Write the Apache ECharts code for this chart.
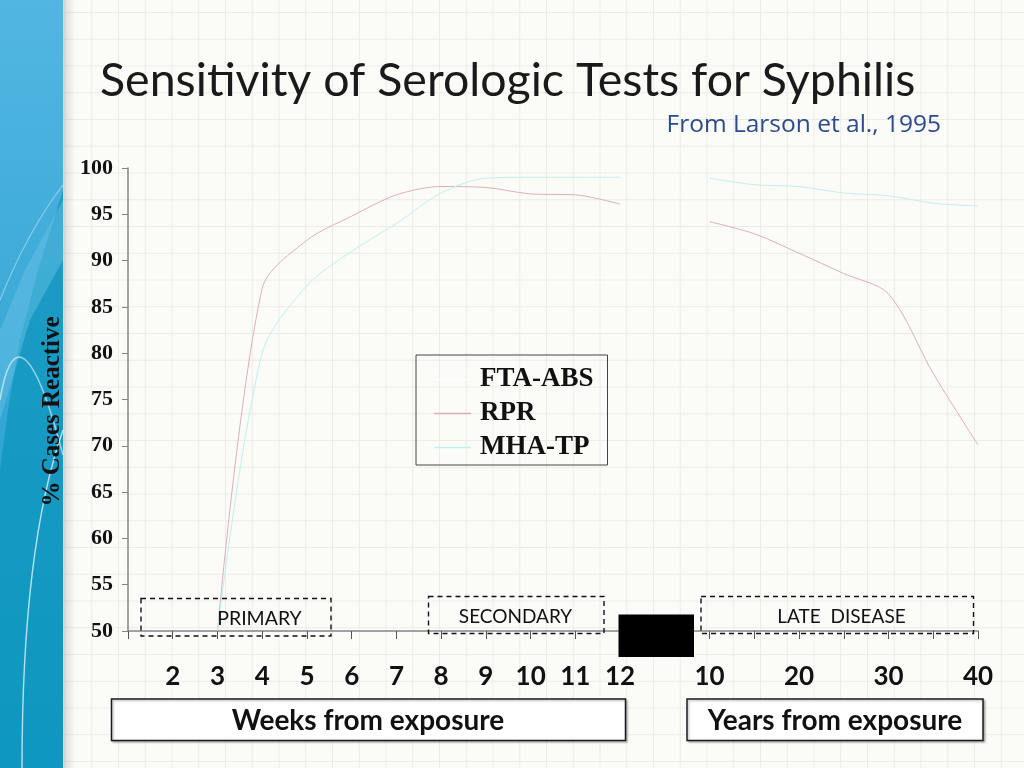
<!DOCTYPE html>
<html>
<head>
<meta charset="utf-8">
<script src="https://cdn.jsdelivr.net/npm/echarts@6/dist/echarts.min.js"></script>
<style>
  html, body { margin: 0; padding: 0; }
  body {
    width: 1024px; height: 768px; overflow: hidden;
    background-color: #fbfbf8;
    background-image:
      linear-gradient(to right, #ececE7 1.3px, transparent 1.3px),
      linear-gradient(to bottom, #ececE7 1.3px, transparent 1.3px);
    background-size: 26.75px 26.75px;
    background-position: 11px 12px;
  }
  #chart { width: 1024px; height: 768px; }
</style>
</head>
<body>
<div id="chart"></div>
<script>
// tick labels along the bottom: weeks 1..12, a break, then years 10..40
var xLabels = ['', '2', '3', '4', '5', '6', '7', '8', '9', '10', '11', '12', '',
               '10', '', '20', '', '30', '', '40'];
var seriesNames = ['FTA-ABS', 'RPR', 'MHA-TP'];
// FTA-ABS is drawn white in the original and can't be read off the slide
var ftaAbs = [];
var rpr = [null, null, 50, 87, 92.2, 94.8, 97.1, 98.0, 97.9, 97.2, 97.1, 96.1, null,
           94.2, 92.9, 90.8, 88.6, 86.4, 77.8, 70.1];
var mhaTp = [null, null, 50, 80, 87.3, 91.0, 94.0, 97.3, 98.9, 99.0, 99.0, 99.0, null,
             98.9, 98.2, 98.0, 97.3, 97.0, 96.2, 95.9];
var yTicks = { min: 50, max: 100, step: 5 };

(function() {
  var ink = '#111';
  var axisGrey = '#858585';
  var serif = '"Liberation Serif", "DejaVu Serif", serif';
  var sans = 'Lato, "Noto Sans", sans-serif';
  var narrow = '"Liberation Sans Narrow", Lato, sans-serif';
  var pink = '#dcb0b5';
  var cyan = '#bff0eb';

  var chart = echarts.init(document.getElementById('chart'), null, { renderer: 'canvas' });

  function dashedBox(x1, y1, x2, y2) {
    return {
      type: 'rect', z: 20,
      shape: { x: x1, y: y1, width: x2 - x1, height: y2 - y1 },
      style: { fill: 'none', stroke: '#111', lineWidth: 1.4, lineDash: [5, 4] }
    };
  }
  function boxLabel(x, y, text, size, weight) {
    return {
      type: 'text', z: 21,
      style: { x: x, y: y, text: text, fill: ink, align: 'center', verticalAlign: 'middle',
               font: (weight || 'normal') + ' ' + size + 'px ' + sans }
    };
  }
  function plainBox(x1, y1, x2, y2) {
    return {
      type: 'rect', z: 20,
      shape: { x: x1, y: y1, width: x2 - x1, height: y2 - y1 },
      style: { fill: '#fff', stroke: '#1a1a1a', lineWidth: 1.5,
               shadowColor: 'rgba(0,0,0,0.25)', shadowOffsetX: 1.5, shadowOffsetY: 1.5, shadowBlur: 2 }
    };
  }
  function arc(x1, y1, cx1, cy1, cx2, cy2, x2, y2, width, opacity) {
    return {
      type: 'bezierCurve', z: -8,
      shape: { x1: x1, y1: y1, cpx1: cx1, cpy1: cy1, cpx2: cx2, cpy2: cy2, x2: x2, y2: y2 },
      style: { fill: 'none', stroke: '#ffffff', lineWidth: width, opacity: opacity }
    };
  }

  chart.setOption({
    animation: false,
    title: [
      {
        text: 'Sensitivity of Serologic Tests for Syphilis',
        left: 95, top: 52,
        textStyle: { fontFamily: sans, fontWeight: 'normal', fontSize: 46.5, color: '#1a1a1a' }
      },
      {
        text: 'From Larson et al., 1995',
        right: 78, top: 108,
        textStyle: { fontFamily: '"Open Sans", "Noto Sans", sans-serif', fontWeight: 'normal',
                     fontSize: 24.5, color: '#2b4b8c' }
      }
    ],
    legend: {
      data: seriesNames,
      orient: 'vertical',
      left: 416, top: 355,
      padding: [11, 14, 4, 18],
      borderColor: '#444', borderWidth: 1,
      icon: 'rect',
      itemWidth: 37, itemHeight: 1.5, itemGap: 7,
      selectedMode: false,
      textStyle: { fontFamily: serif, fontWeight: 'bold', fontSize: 27, color: ink,
                   lineHeight: 27, padding: [0, 0, 0, 4] }
    },
    grid: { left: 128, right: 46, top: 168, bottom: 137 },
    xAxis: {
      type: 'category',
      data: xLabels,
      boundaryGap: false,
      axisLine: { lineStyle: { color: axisGrey, width: 1.5 } },
      axisTick: { show: true, interval: 0, length: 8, lineStyle: { color: '#555' } },
      axisLabel: { interval: 0, margin: 33, color: ink, fontFamily: narrow,
                   fontWeight: 'bold', fontSize: 26 },
      splitLine: { show: false }
    },
    yAxis: {
      type: 'value',
      z: 10,
      min: yTicks.min, max: yTicks.max, interval: yTicks.step,
      name: '% Cases Reactive',
      nameLocation: 'middle',
      nameGap: 63,
      nameTextStyle: { fontFamily: serif, fontWeight: 'bold', fontSize: 25, color: ink,
                       padding: [0, 24, 0, 0] },
      axisLine: { show: true, lineStyle: { color: axisGrey, width: 1.5 } },
      axisTick: { show: true, length: 6, lineStyle: { color: axisGrey } },
      axisLabel: { margin: 15, color: ink, fontFamily: serif, fontWeight: 'bold', fontSize: 22 },
      splitLine: { show: false }
    },
    series: [
      {
        name: seriesNames[0], type: 'line', data: ftaAbs,
        symbol: 'none', itemStyle: { color: '#ffffff' },
        lineStyle: { color: '#ffffff', width: 1 }
      },
      {
        name: seriesNames[1], type: 'line', data: rpr,
        symbol: 'none', smooth: 0.3, connectNulls: false,
        itemStyle: { color: pink },
        lineStyle: { color: pink, width: 1 }
      },
      {
        name: seriesNames[2], type: 'line', data: mhaTp,
        symbol: 'none', smooth: 0.3, connectNulls: false,
        itemStyle: { color: cyan },
        lineStyle: { color: cyan, width: 1 }
      }
    ],
    graphic: [
      // blue strip down the left of the slide
      {
        type: 'rect', z: -10,
        shape: { x: 0, y: 0, width: 63, height: 768 },
        style: {
          fill: new echarts.graphic.LinearGradient(0, 0, 0, 1, [
            { offset: 0, color: '#52b6e2' },
            { offset: 0.45, color: '#3aa9d6' },
            { offset: 1, color: '#109bc4' }
          ])
        }
      },
      {
        type: 'polygon', z: -9,
        shape: { points: [[0, 470], [8, 410], [20, 340], [38, 270], [63, 190], [63, 768], [0, 768]] },
        style: { fill: '#0d96bd', opacity: 0.75 }
      },
      {
        type: 'polygon', z: -9,
        shape: { points: [[0, 330], [25, 270], [63, 200], [63, 260], [30, 320], [0, 420]] },
        style: { fill: '#6cc4e6', opacity: 0.45 }
      },
      arc(22, 768, 22, 620, 35, 510, 63, 430, 1.4, 0.7),
      arc(0, 400, 10, 340, 30, 330, 63, 455, 1.6, 0.55),
      arc(0, 300, 20, 250, 40, 215, 63, 185, 1.2, 0.4),
      {
        type: 'rect', z: -9,
        shape: { x: 63, y: 0, width: 12, height: 768 },
        style: {
          fill: new echarts.graphic.LinearGradient(0, 0, 1, 0, [
            { offset: 0, color: 'rgba(0,0,0,0.14)' },
            { offset: 1, color: 'rgba(0,0,0,0)' }
          ])
        }
      },
      // disease stage boxes
      dashedBox(141, 598.5, 331, 636),
      boxLabel(259.5, 619, 'PRIMARY', 19.5),
      dashedBox(428.5, 596.5, 604, 633.5),
      boxLabel(515.5, 617, 'SECONDARY', 19),
      dashedBox(701, 596.5, 973.5, 633.5),
      boxLabel(841.5, 617, 'LATE  DISEASE', 19),
      // axis break
      {
        type: 'rect', z: 20,
        shape: { x: 618.5, y: 614.5, width: 75.5, height: 42.5 },
        style: { fill: '#000' }
      },
      // time unit boxes
      plainBox(111.5, 699, 625.5, 740.5),
      boxLabel(368, 720.5, 'Weeks from exposure', 28, 'bold'),
      plainBox(687, 699, 983, 740.5),
      boxLabel(835, 720.5, 'Years from exposure', 28, 'bold')
    ]
  });

  window.addEventListener('resize', function() { chart.resize(); });
})();
</script>
</body>
</html>
